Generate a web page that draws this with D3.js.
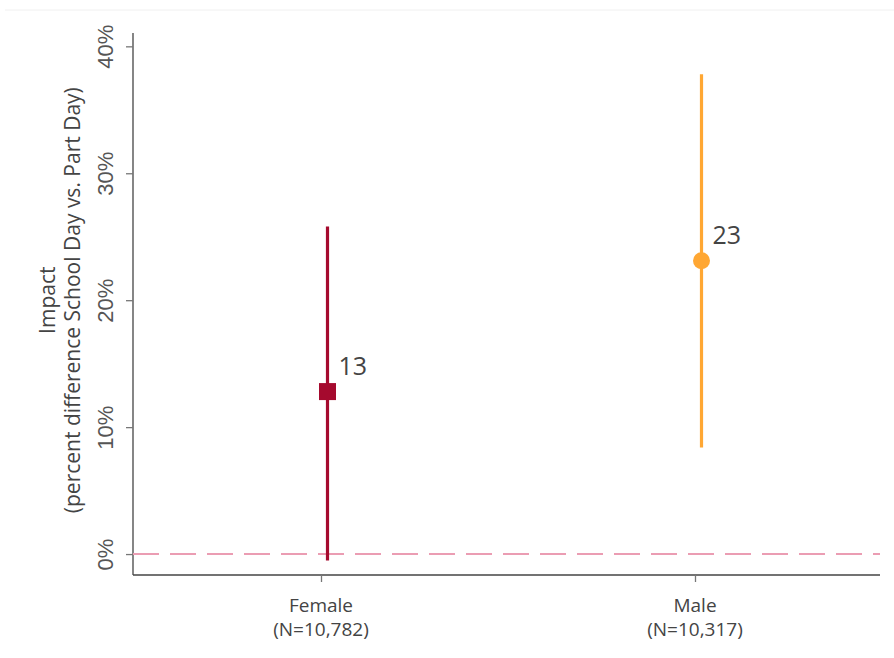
<!DOCTYPE html>
<html>
<head>
<meta charset="utf-8">
<script src="https://cdn.jsdelivr.net/npm/d3@7"></script>
<style>
  html, body { margin: 0; padding: 0; background: #fff; }
  svg { display: block; font-family: "Open Sans", "Noto Sans", sans-serif; }
</style>
</head>
<body>
<svg id="chart" width="894" height="658"></svg>
<script>
// Estimated impact by gender with confidence intervals
const groups = ["Female", "Male"];
const groupNs = ["(N=10,782)", "(N=10,317)"];
const estimates = [12.8, 23.1];
const ciLow = [-0.5, 8.4];
const ciHigh = [25.8, 37.8];
const colors = ["#a50a2e", "#ffa733"];
const yTicks = [0, 10, 20, 30, 40];

const svg = d3.select("#chart");
const width = 894, height = 658;
const margin = { top: 33, right: 14, bottom: 83, left: 133 };

// faint rule under the header area
svg.append("line")
  .attr("x1", 5).attr("x2", width).attr("y1", 10).attr("y2", 10)
  .attr("stroke", "#f0f0f0").attr("stroke-width", 1);

const y = d3.scaleLinear()
  .domain([-1.65, 41.05])
  .range([height - margin.bottom, margin.top]);

const x = d3.scalePoint()
  .domain(groups)
  .range([321, 695]);

const ink = "#444";

// y axis
const yAxis = svg.append("g")
  .attr("transform", `translate(${margin.left},0)`)
  .call(d3.axisLeft(y).tickValues(yTicks).tickSize(7).tickPadding(4)
    .tickFormat(d => d + "%"));
yAxis.select(".domain").attr("stroke", ink).attr("stroke-width", 1.3)
  .attr("d", `M0,${y.range()[0]}V${y.range()[1]}`);
yAxis.selectAll(".tick line").attr("stroke", "#777").attr("stroke-width", 1.3);
yAxis.selectAll(".tick text")
  .attr("fill", "#555").attr("font-size", 22)
  .attr("transform", "rotate(-90)")
  .attr("x", 0).attr("y", -20)
  .attr("dy", "0")
  .attr("text-anchor", "middle")
  .attr("dominant-baseline", "auto");

// x axis
const xAxis = svg.append("g")
  .attr("transform", `translate(0,${height - margin.bottom})`)
  .call(d3.axisBottom(x).tickSize(7).tickPadding(0).tickFormat(""));
xAxis.select(".domain").attr("stroke", ink).attr("stroke-width", 1.3)
  .attr("d", `M${margin.left},0H${width - margin.right}`);
xAxis.selectAll(".tick line").attr("stroke", "#777").attr("stroke-width", 1.3);

// two-line category labels
const xLabels = svg.append("g")
  .attr("text-anchor", "middle")
  .attr("fill", ink).attr("font-size", 19);
groups.forEach((g, i) => {
  xLabels.append("text").attr("x", x(g)).attr("y", 612).text(g);
  xLabels.append("text").attr("x", x(g)).attr("y", 636).text(groupNs[i]);
});

// y axis title
const yTitle = svg.append("g")
  .attr("transform", `translate(0,${(y(0) + y(40)) / 2}) rotate(-90)`)
  .attr("text-anchor", "middle")
  .attr("fill", ink).attr("font-size", 21);
yTitle.append("text").attr("x", 0).attr("y", 55).text("Impact");
yTitle.append("text").attr("x", 0).attr("y", 80)
  .text("(percent difference School Day vs. Part Day)");

// zero reference line
svg.append("line")
  .attr("x1", margin.left).attr("x2", width - margin.right)
  .attr("y1", y(0)).attr("y2", y(0))
  .attr("stroke", "#eb9db3").attr("stroke-width", 2)
  .attr("stroke-dasharray", "26,11");

// confidence intervals and point estimates
const offset = 6.5;
const marks = svg.append("g");
groups.forEach((g, i) => {
  const cx = x(g) + offset;
  marks.append("line")
    .attr("x1", cx).attr("x2", cx)
    .attr("y1", y(ciLow[i])).attr("y2", y(ciHigh[i]))
    .attr("stroke", colors[i]).attr("stroke-width", 3.2);
  if (i === 0) {
    const s = 17;
    marks.append("rect")
      .attr("x", cx - s / 2).attr("y", y(estimates[i]) - s / 2)
      .attr("width", s).attr("height", s)
      .attr("fill", colors[i]);
  } else {
    marks.append("circle")
      .attr("cx", cx).attr("cy", y(estimates[i])).attr("r", 8.5)
      .attr("fill", colors[i]);
  }
  marks.append("text")
    .attr("x", cx + 11).attr("y", y(estimates[i]) - 17)
    .attr("fill", ink).attr("font-size", 25)
    .text(d3.format(".0f")(estimates[i]));
});
</script>
</body>
</html>
